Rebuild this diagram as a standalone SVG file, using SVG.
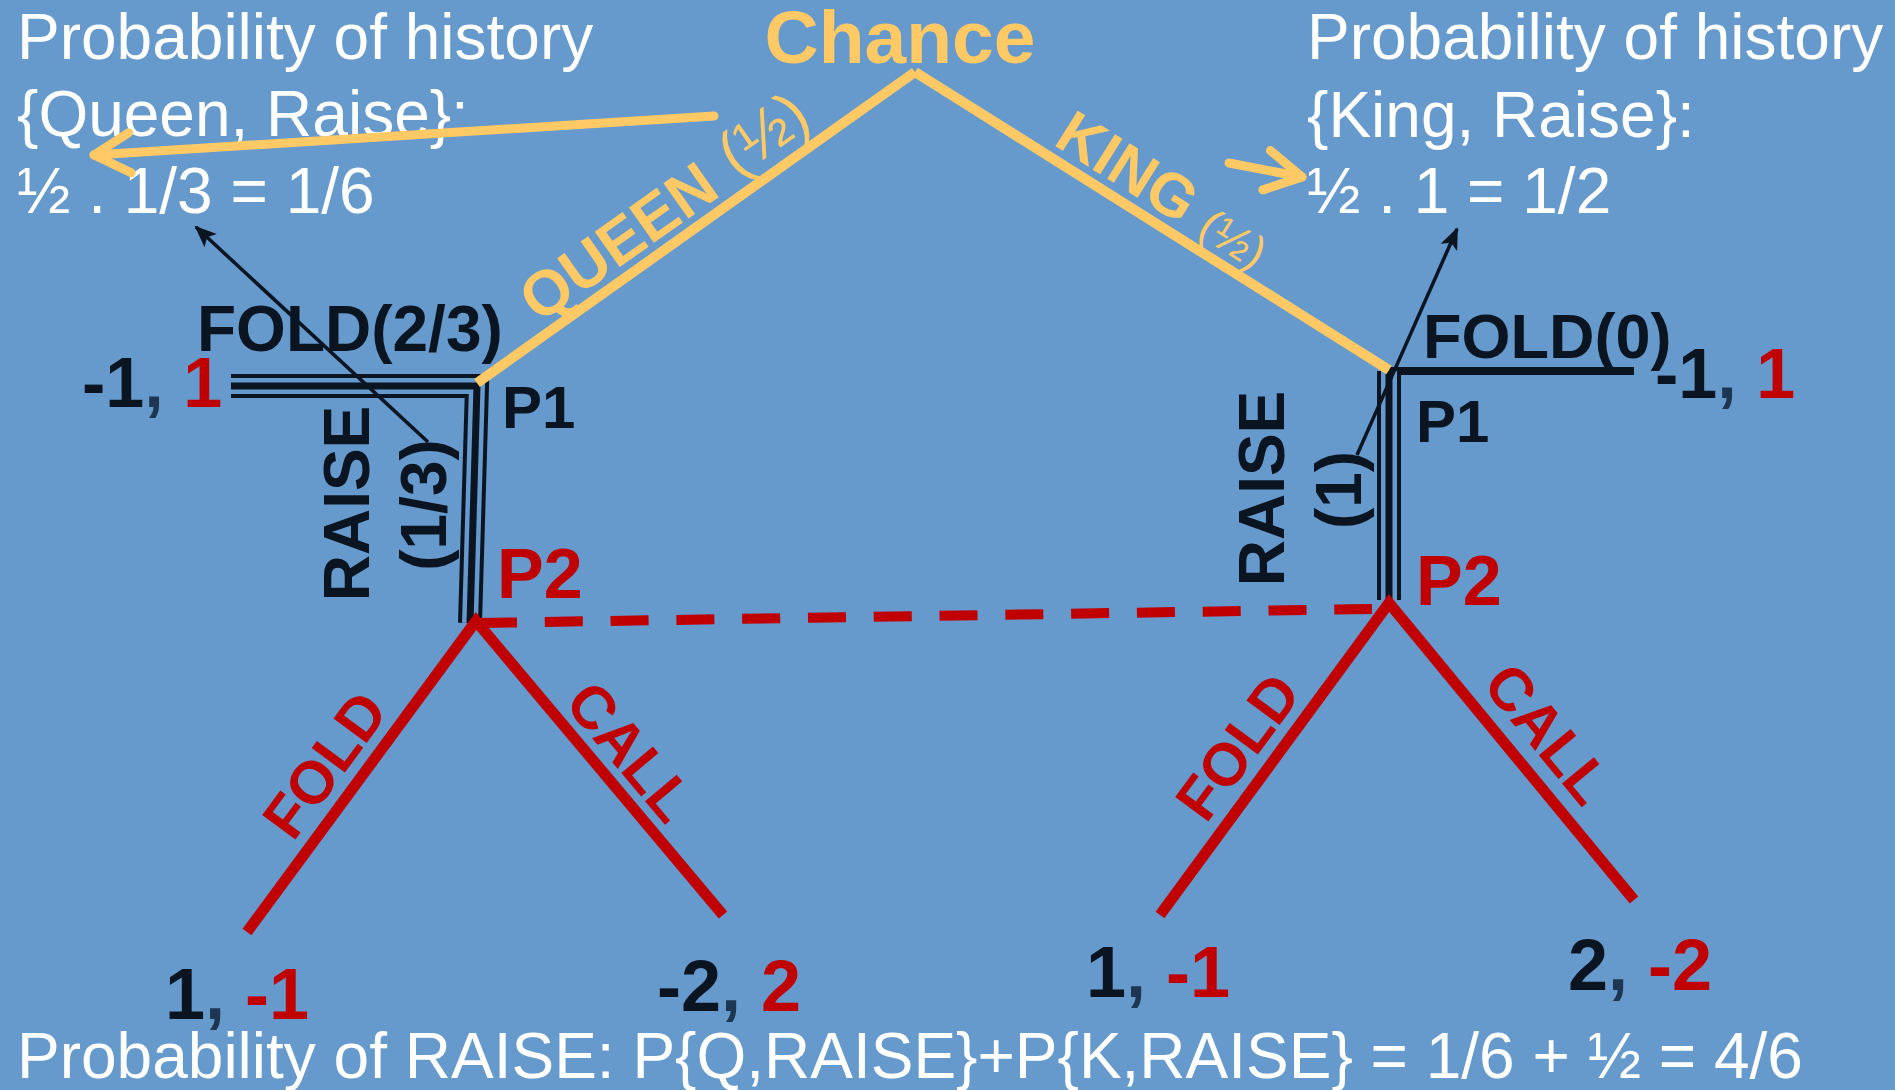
<svg xmlns="http://www.w3.org/2000/svg" width="1895" height="1090" viewBox="0 0 1895 1090">
  <defs>
    <style>
      text { font-family: "Liberation Sans", Arial, sans-serif; }
      .note { fill: #ffffff; font-size: 64px; }
      .bold { font-weight: bold; }
      .dark { fill: #0B1521; }
      .red { fill: #C00000; }
      .gold { fill: #FFC965; }
      .comma { fill: #1D3651; }
      .pay { font-weight: bold; font-size: 72px; }
      .act { font-weight: bold; font-size: 64px; fill: #0B1521; }
      .player { font-weight: bold; font-size: 60px; fill: #0B1521; }
      .p2 { font-weight: bold; font-size: 70px; fill: #C00000; }
      .redlab { font-weight: bold; font-size: 60px; fill: #C00000; }
      .frac { font-weight: normal; }
      .edge-y { stroke: #FFC965; stroke-width: 10; fill: none; stroke-linecap: butt; }
      .edge-r { stroke: #C00000; stroke-width: 11; fill: none; stroke-linejoin: miter; }
      .dash { stroke: #C00000; stroke-width: 10; fill: none; stroke-dasharray: 38 27.8; }
      .tri-o { stroke: #0B1521; stroke-width: 24; fill: none; stroke-linejoin: miter; }
      .tri-g { stroke: #6699CC; stroke-width: 16; fill: none; stroke-linejoin: miter; }
      .tri-i { stroke: #0B1521; stroke-width: 7; fill: none; stroke-linejoin: miter; }
      .single { stroke: #0B1521; stroke-width: 8; fill: none; }
      .pointer { stroke: #0B1521; stroke-width: 3.5; fill: none; marker-end: url(#tip); }
      .callout { stroke: #FFC965; stroke-width: 9; fill: none; stroke-linecap: round; marker-end: url(#chev); }
    </style>
    <marker id="chev" markerUnits="userSpaceOnUse" orient="auto" overflow="visible" markerWidth="1" markerHeight="1" refX="0" refY="0">
      <path d="M-36,-20 L0,0 L-36,20" fill="none" stroke="#FFC965" stroke-width="9" stroke-linecap="round" stroke-linejoin="round"/>
    </marker>
    <marker id="tip" markerUnits="userSpaceOnUse" orient="auto" overflow="visible" markerWidth="1" markerHeight="1" refX="0" refY="0">
      <path d="M2,0 L-20,-9 L-15,0 L-20,9 z" fill="#0B1521"/>
    </marker>
  </defs>

  <rect x="0" y="0" width="1895" height="1090" fill="#6699CC"/>

  <!-- notes: probability of each history -->
  <g id="note-queen" class="note">
    <text x="17" y="59">Probability of history</text>
    <text x="17" y="136">{Queen, Raise}:</text>
    <text x="17" y="213">½ . 1/3 = 1/6</text>
  </g>
  <g id="note-king" class="note">
    <text x="1307" y="59">Probability of history</text>
    <text x="1307" y="137">{King, Raise}:</text>
    <text x="1307" y="213">½ . 1 = 1/2</text>
  </g>

  <!-- chance node and its branch labels -->
  <g id="chance">
    <text class="bold gold" x="900" y="63" text-anchor="middle" style="font-size:75px">Chance</text>
    <text class="gold" transform="translate(539,324) rotate(-35.2)" style="font-size:63px"><tspan class="bold">QUEEN </tspan><tspan class="frac" dx="4" dy="-5" style="font-size:63px">(½)</tspan></text>
    <text class="gold" transform="translate(1052,144) rotate(32.1)" style="font-size:61px"><tspan class="bold">KING </tspan><tspan class="frac" style="font-size:46px">(½)</tspan></text>
  </g>

  <!-- player 1 holding the queen -->
  <g id="p1-queen">
    <text class="player" x="502" y="428">P1</text>
    <text class="act" x="197" y="351">FOLD(2/3)</text>
    <text class="act" transform="translate(369,503.5) rotate(-90)" text-anchor="middle">RAISE</text>
    <text class="act" transform="translate(446,505) rotate(-90)" text-anchor="middle">(1/3)</text>
  </g>

  <!-- player 1 holding the king -->
  <g id="p1-king">
    <text class="player" x="1416" y="442">P1</text>
    <text class="act" x="1423" y="358" style="font-size:63px">FOLD(0)</text>
    <text class="act" transform="translate(1284,488.5) rotate(-90)" text-anchor="middle">RAISE</text>
    <text class="act" transform="translate(1361,490) rotate(-90)" text-anchor="middle">(1)</text>
  </g>

  <!-- player 2 information set -->
  <g id="p2-queen">
    <text class="p2" x="497" y="598">P2</text>
    <text class="redlab" transform="translate(341.5,777) rotate(-53.5)" text-anchor="middle">FOLD</text>
    <text class="redlab" transform="translate(614.5,765) rotate(49.9)" text-anchor="middle">CALL</text>
  </g>
  <g id="p2-king">
    <text class="p2" x="1416" y="605">P2</text>
    <text class="redlab" transform="translate(1254.5,759) rotate(-53.6)" text-anchor="middle">FOLD</text>
    <text class="redlab" transform="translate(1532,747) rotate(50.4)" text-anchor="middle">CALL</text>
  </g>

  <!-- terminal payoffs -->
  <g id="leaf-queen-fold">
    <text class="pay" x="82" y="407" style="font-size:70px"><tspan class="dark">-1</tspan><tspan class="comma">, </tspan><tspan class="red">1</tspan></text>
  </g>
  <g id="leaf-king-fold">
    <text class="pay" x="1655" y="398" style="font-size:70px"><tspan class="dark">-1</tspan><tspan class="comma">, </tspan><tspan class="red">1</tspan></text>
  </g>
  <g id="leaf-queen-raise-fold">
    <text class="pay" x="165" y="1019"><tspan class="dark">1</tspan><tspan class="comma">, </tspan><tspan class="red">-1</tspan></text>
  </g>
  <g id="leaf-queen-raise-call">
    <text class="pay" x="657" y="1011"><tspan class="dark">-2</tspan><tspan class="comma">, </tspan><tspan class="red">2</tspan></text>
  </g>
  <g id="leaf-king-raise-fold">
    <text class="pay" x="1086" y="997"><tspan class="dark">1</tspan><tspan class="comma">, </tspan><tspan class="red">-1</tspan></text>
  </g>
  <g id="leaf-king-raise-call">
    <text class="pay" x="1568" y="990"><tspan class="dark">2</tspan><tspan class="comma">, </tspan><tspan class="red">-2</tspan></text>
  </g>

  <!-- summary line -->
  <g id="summary" class="note">
    <text x="17" y="1078">Probability of RAISE: P{Q,RAISE}+P{K,RAISE} = 1/6 + ½ = 4/6</text>
  </g>

  <!-- edges of the game tree and annotation arrows -->
  <g id="connectors">
    <!-- P1 actions with the queen: compound triple stroke -->
    <path class="tri-o" d="M231,386 L477,386 L470,623"/>
    <path class="tri-g" d="M231,386 L477,386 L470,623"/>
    <path class="tri-i" d="M231,386 L477,386 L470,623"/>
    <!-- P1 actions with the king -->
    <path class="single" d="M1389,371 L1634,371"/>
    <path class="tri-o" d="M1389,371 L1389,600"/>
    <path class="tri-g" d="M1389,371 L1389,600"/>
    <path class="tri-i" d="M1389,371 L1389,600"/>
    <!-- chance branches -->
    <path class="edge-y" d="M477,383 L915,72"/>
    <path class="edge-y" d="M915,72 L1389,370"/>
    <!-- P2 branches -->
    <path class="edge-r" d="M247,932 L476,621 L723,915"/>
    <path class="edge-r" d="M1160,915 L1389,603 L1634,900"/>
    <!-- information set of P2 -->
    <path class="dash" d="M479,623 L1372,609"/>
    <!-- callouts to the notes -->
    <path class="callout" d="M714,116 L94,155"/>
    <path class="callout" d="M1229,163 L1302,177"/>
    <path class="pointer" d="M428,442 L196,227"/>
    <path class="pointer" d="M1357,455 L1457,229"/>
  </g>
</svg>
